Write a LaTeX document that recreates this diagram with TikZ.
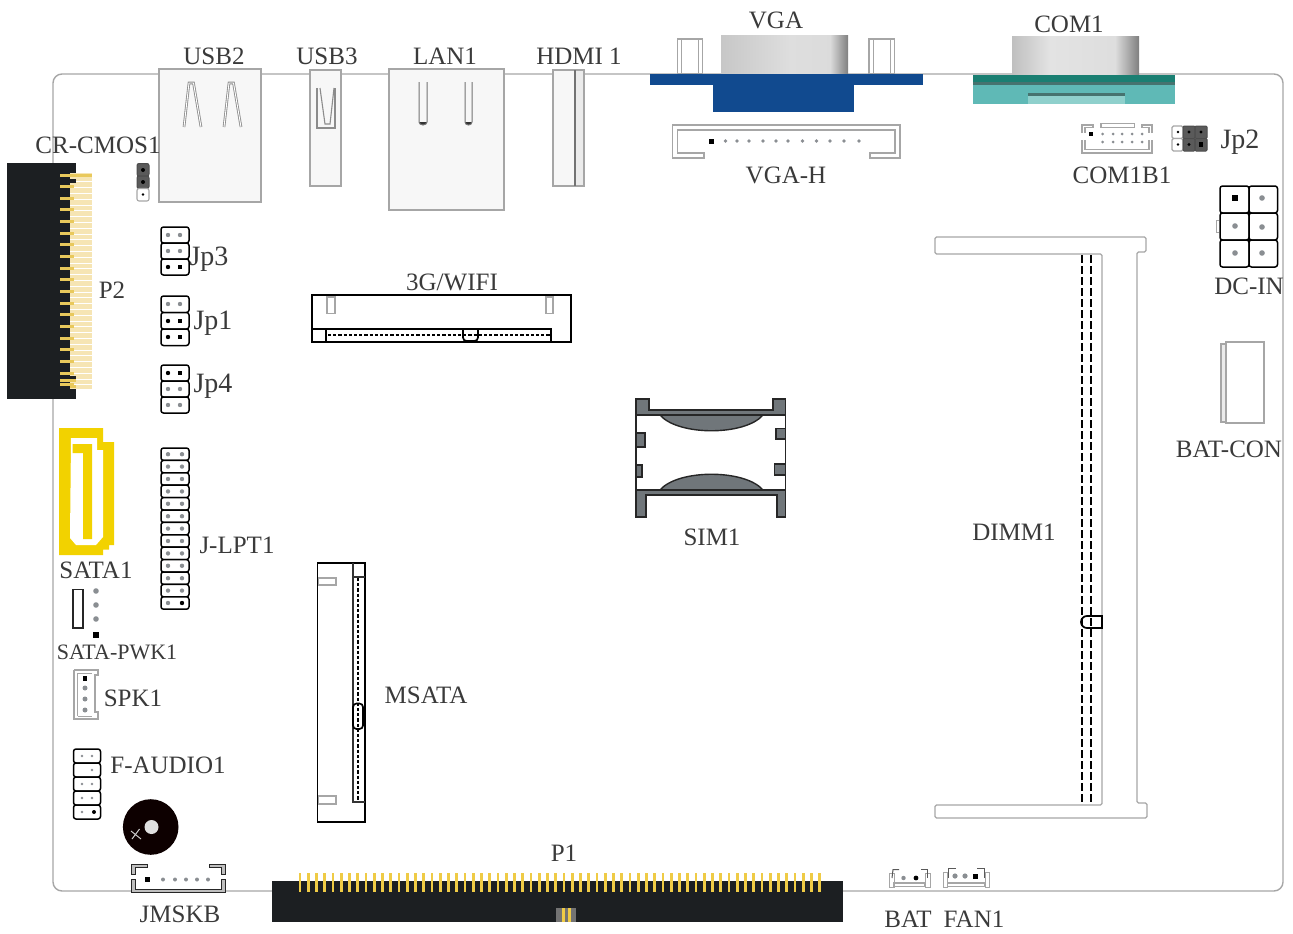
\documentclass[tikz,border=0pt]{standalone}
\usepackage{fontspec}
\setmainfont{Liberation Serif}
\definecolor{ink}{HTML}{3A3A3A}
\definecolor{frame}{HTML}{A6A6A6}
\definecolor{panel}{HTML}{F7F7F7}
\definecolor{pcbblack}{HTML}{1C1F22}
\definecolor{palegold}{HTML}{F6E5B4}
\definecolor{gold}{HTML}{E9C95C}
\definecolor{brightgold}{HTML}{EFCB45}
\definecolor{satayellow}{HTML}{F2D200}
\definecolor{vgablue}{HTML}{114A8F}
\definecolor{tealdark}{HTML}{1A7F72}
\definecolor{teallight}{HTML}{5FB9B6}
\definecolor{tealpale}{HTML}{8FD0CC}
\definecolor{tealgrey}{HTML}{46736F}
\definecolor{simgrey}{HTML}{70767A}
\definecolor{pindark}{HTML}{5A5A5A}
\definecolor{pingrey}{HTML}{8A8E92}
\tikzset{
  lbl/.style={font=\fontsize{25}{25}\selectfont,text=ink,inner sep=0pt},
  lbljp/.style={font=\fontsize{28}{28}\selectfont,text=ink,inner sep=0pt,anchor=base},
  lblsmall/.style={font=\fontsize{22}{22}\selectfont,text=ink,inner sep=0pt},
  boardline/.style={draw=frame,line width=1.4pt},
  greybox/.style={draw=frame,line width=1.3pt,fill=panel},
  thinbox/.style={draw=frame,line width=1.1pt,fill=white},
  blackbox/.style={draw=black,line width=1.7pt},
  cell/.style={draw=black,line width=1.5pt,fill=white,rounded corners=2.5pt},
  darkcell/.style={draw=black!70,line width=1pt,fill=pindark,rounded corners=2pt},
  simbox/.style={draw=black!85,line width=1.4pt,fill=simgrey},
}
% grey round pin, black round pin, black square pin
\newcommand{\gp}[3][2.2]{\fill[pingrey] (#2,#3) circle (#1pt);}
\newcommand{\bp}[3][2.2]{\fill[black] (#2,#3) circle (#1pt);}
\newcommand{\sqp}[3][2.8]{\fill[black] (#2-#1,#3-#1) rectangle (#2+#1,#3+#1);}
% header row: x0 x1 ytop ybottom
\newcommand{\hrow}[4]{\draw[cell] (#1,#3) rectangle (#2,#4);}
\begin{document}
\begin{tikzpicture}[x=1pt,y=-1pt]
\useasboundingbox (0,0) rectangle (1293,934);
\fill[white] (0,0) rectangle (1293,934);

% board outline
\draw[boardline,rounded corners=9pt] (53,74) rectangle (1283,891);

% P2 edge connector
\fill[pcbblack] (7,163) rectangle (76,399);
\fill[palegold] (70,173) rectangle (92,389);
\foreach \i in {0,...,36} \fill[white] (70,{175.5+5.8*\i}) rectangle (92,{176.1+5.8*\i});
\foreach \i in {0,...,18} \fill[gold] (60,{173.5+11.65*\i}) rectangle (74,{176.5+11.65*\i});
\fill[pcbblack] (70,179) rectangle (76,183);
\fill[gold] (60,173.5) rectangle (92,176.5);
\fill[pcbblack] (70,376) rectangle (76,380);
\fill[gold] (60,379) rectangle (76,382);
\fill[gold] (70,384.5) rectangle (76,388);

% USB2
\draw[greybox] (159,69) rectangle (261,202);
\foreach \dx in {0,40}{
  \draw[black!45,line width=2.6pt] (184+\dx,127) -- (189+\dx,83) -- (193.5+\dx,83) -- (201+\dx,127);
  \draw[white,line width=0.9pt] (184+\dx,127) -- (189+\dx,83) -- (193.5+\dx,83) -- (201+\dx,127);
}
% USB3
\draw[greybox] (310,70) rectangle (341,186);
\draw[black!45,line width=1.1pt] (317,88) -- (317,128) -- (335,128) -- (335,88);
\draw[black!45,line width=1.1pt] (320,88) -- (325,124) -- (330,124) -- (334,88);
% LAN1
\draw[greybox] (389,69) rectangle (504,210);
\foreach \a/\b in {419/427,465/472}{
  \fill[black!80] (\a,122) arc[start angle=180,end angle=0,x radius={(\b-\a)/2},y radius=3] -- cycle;
  \draw[black!55,line width=1pt] (\a,82) -- (\a,122) arc[start angle=180,end angle=0,x radius={(\b-\a)/2},y radius=3] -- (\b,82);
}
% HDMI
\draw[greybox,fill=panel] (553,70) rectangle (575,186);
\draw[greybox,fill=black!8] (575,70) rectangle (584,186);
\draw[black!55,line width=1.5pt] (575,70) -- (575,186);

% VGA
\foreach \a/\b in {677.5/702.5,869/894.5}{
  \draw[thinbox] (\a,39) rectangle (\b,74);
  \draw[frame,line width=0.9pt] (\a+4,39) -- (\a+4,74) (\b-4,39) -- (\b-4,74);
}
\shade[left color=black!22,right color=black!13] (721,36) rectangle (790,74);
\shade[left color=black!13,right color=black!14] (790,36) rectangle (830,74);
\shade[left color=black!14,right color=black!50] (830,36) rectangle (848,74);
\fill[vgablue] (650,74) rectangle (923,85);
\fill[vgablue] (713,85) rectangle (854,112);

% COM1
\shade[left color=black!25,right color=black!11] (1012,37) rectangle (1050,75);
\shade[left color=black!11,right color=black!13] (1050,37) rectangle (1115,75);
\shade[left color=black!13,right color=black!50] (1115,37) rectangle (1139,75);
\fill[teallight] (973,75) rectangle (1175,104);
\fill[tealdark] (973,75) rectangle (1175,82);
\fill[tealgrey] (973,82) rectangle (1175,84.5);
\fill[tealpale] (1028,96) rectangle (1125,104);
\fill[tealgrey] (1028,92.5) rectangle (1125,96);

% VGA-H
\draw[thinbox] (672.5,125) -- (900,125) -- (900,158) -- (870,158) -- (870,153) -- (895,153) -- (895,130) -- (677.5,130) -- (677.5,153) -- (704,153) -- (704,158) -- (672.5,158) -- cycle;
\sqp[2.5]{711.5}{141}
\foreach \x in {725.5,737,749,763,776,788,802.5,816.5,830,844,859} {\gp[1.8]{\x}{141}}

% COM1B1
\draw[thinbox] (1101,123.5) rectangle (1134.5,127.5);
\draw[frame,line width=1.1pt] (1082,133) -- (1082,125) -- (1093,125) -- (1093,127.5) -- (1085,127.5) -- (1085,133);
\draw[frame,line width=1.1pt] (1152,133) -- (1152,125) -- (1142,125) -- (1142,127.5) -- (1149,127.5) -- (1149,133);
\draw[frame,line width=1.1pt] (1082,140) -- (1082,153) -- (1152,153) -- (1152,140);
\draw[frame,line width=1.1pt] (1085,140) -- (1085,149.5) -- (1149,149.5) -- (1149,140);
\sqp[1.8]{1091}{134}
\foreach \x in {1102.5,1113,1122,1132,1142}{\gp[1.5]{\x}{134}\gp[1.5]{\x}{142}}

% Jp2
\foreach \y in {126,138.5}{
  \draw[thinbox,rounded corners=1.5pt] (1172,\y) rectangle (1183,\y+12.5);
  \draw[darkcell,rounded corners=1pt] (1183,\y) rectangle (1195,\y+12.5);
  \draw[darkcell,rounded corners=1pt] (1195,\y) rectangle (1207,\y+12.5);
  \bp[1.4]{1178}{\y+6}\bp[1.6]{1189}{\y+6}\bp[1.6]{1201}{\y+6}
}
\sqp[2.4]{1201}{144.5}

% DC-IN
\draw[frame,line width=1pt] (1219,220) -- (1216,220) -- (1216,232) -- (1219,232);
\foreach \y in {186,213,240}{
  \hrow{1220}{1249}{\y}{\y+27}
  \hrow{1249}{1277.5}{\y}{\y+27}
}
\sqp[3.4]{1235}{198}
\gp[2.8]{1262}{198}\gp[2.8]{1235}{226}\gp[2.8]{1262}{227}\gp[2.8]{1235}{253}\gp[2.8]{1262}{253}

% BAT-CON
\draw[greybox,fill=black!8] (1221,344) rectangle (1226,422);
\draw[thinbox] (1226,342) rectangle (1264,423);

% DIMM1
\draw[thinbox,rounded corners=1.5pt] (1137,800) -- (1137,803) -- (1147,803) -- (1147,818) -- (935,818) -- (935,805) -- (1102,805) -- (1102,254) -- (935,254) -- (935,237) -- (1146,237) -- (1146,252) -- (1137,252) -- cycle;
\draw[black,line width=1.7pt,dash pattern=on 8pt off 3pt] (1082,255) -- (1082,803);
\draw[black,line width=1.7pt,dash pattern=on 8pt off 3pt] (1091,255) -- (1091,803);
\draw[blackbox] (1087,616) -- (1102,616) -- (1102,628) -- (1087,628) arc[start angle=90,end angle=270,radius=6];

% SIM1
\draw[draw=black!85,line width=1.4pt,fill=white] (636,415) rectangle (785.5,490);
\draw[simbox] (660,415) .. controls (678,436) and (745,436) .. (763,415) -- cycle;
\draw[simbox] (660,490) .. controls (678,469) and (745,469) .. (763,490) -- cycle;
\draw[simbox] (636,399) -- (649,399) -- (649,410) -- (773,410) -- (773,399) -- (785.5,399) -- (785.5,415) -- (636,415) -- cycle;
\draw[simbox] (636,490) -- (785.5,490) -- (785.5,517) -- (777,517) -- (777,495) -- (646,495) -- (646,517) -- (636,517) -- cycle;
\draw[simbox] (636,433) rectangle (645,447);
\draw[simbox] (636,465) rectangle (642,477);
\draw[simbox] (776,428.5) rectangle (785.5,439);
\draw[simbox] (774.5,464) rectangle (785.5,475);

% 3G/WIFI
\draw[blackbox,fill=white] (312,295) rectangle (571,342);
\draw[thinbox] (327,297) rectangle (335,313.5);
\draw[thinbox] (546,297) rectangle (553,313.5);
\draw[blackbox] (312,329) -- (326,329) -- (326,342);
\draw[blackbox] (326,329) -- (551,329) -- (551,342);
\draw[black,line width=1.7pt,dash pattern=on 3.2pt off 2pt] (328,335) -- (550,335);
\draw[blackbox,rounded corners=3.5pt] (463,329) -- (463,341) -- (478,341) -- (478,329);

% MSATA
\draw[blackbox,fill=white] (317.5,563) rectangle (365,822);
\draw[thinbox] (318.5,578) rectangle (336,585);
\draw[thinbox] (318.5,796) rectangle (336,804);
\draw[black!80,line width=1.5pt] (353,563) -- (353,802) -- (365,802);
\draw[black!80,line width=1.5pt] (353,577) -- (365,577);
\draw[black,line width=1.7pt,dash pattern=on 3.2pt off 2pt] (358,578) -- (358,800);
\draw[blackbox,rounded corners=3.5pt] (353,703.5) -- (363,703.5) -- (363,729) -- (353,729) -- cycle;

% CR-CMOS jumper
\draw[darkcell] (137,163.5) rectangle (149,176);
\draw[darkcell] (137,176) rectangle (149,188.5);
\draw[thinbox,rounded corners=2pt] (137,188.5) rectangle (149,201);
\bp[2]{143}{170}\bp[2]{143}{182}\bp[1.3]{143}{194.5}

% Jp3
\foreach \y in {227,243,259}{\hrow{161}{189}{\y}{\y+16}}
\gp{168}{235}\gp{180}{235}\gp{168}{251}\gp{180}{251}\bp{168}{267}\sqp[2.1]{180}{267}
% Jp1
\foreach \y in {296,312.5,329}{\hrow{161}{189}{\y}{\y+16.5}}
\gp{168}{304}\gp{180}{304}\bp{168}{321}\sqp[2.1]{180}{321}\bp{168}{337}\sqp[2.1]{180}{337}
% Jp4
\foreach \y in {365,381,397}{\hrow{161}{189}{\y}{\y+16}}
\bp{168}{373}\sqp[2.1]{180}{373}\gp{168}{389}\gp{180}{389}\gp{168}{405}\gp{180}{405}

% J-LPT1
\foreach \i in {0,...,12}{
  \hrow{161}{189}{448+12.4*\i}{448+12.4*\i+12.4}
  \gp{168}{454.2+12.4*\i}
  \ifnum\i<12 \gp{182}{454.2+12.4*\i}\fi
}
\bp{182}{603}

% SATA1
\fill[satayellow] (59,428) -- (103,428) -- (103,442) -- (114,442) -- (114,545) -- (109,545) -- (109,549.5) -- (103,549.5) -- (103,555) -- (59,555) -- cycle;
\fill[white] (71,438) -- (97,438) -- (97,450) -- (103,450) -- (103,537) -- (96,545) -- (76,545) -- (70,538) -- cycle;
\fill[satayellow] (72.5,444) -- (92,444) -- (92,539) -- (83,539) -- (83,453) -- (72.5,453) -- cycle;

% SATA-PWK1
\draw[blackbox,draw=black!85] (73,589.5) rectangle (83,628);
\gp[2.8]{96}{591}\gp[2.8]{96}{605}\gp[2.8]{96}{619}\sqp[2.8]{96}{635}

% SPK1
\draw[thinbox] (74,670) -- (98,670) -- (98,675) -- (95,675) -- (95,712) -- (98,712) -- (98,719) -- (74,719) -- (74,670);
\draw[frame,line width=1pt] (77.5,673) -- (77.5,716) (77.5,673) -- (92,673) (77.5,716) -- (92,716);
\sqp[2.2]{85}{678.5}
\gp[2.5]{85}{688}\gp[2.5]{85}{699}\gp[2.5]{85}{710}

% F-AUDIO1
\foreach \y in {749,763,777,791,805}{\hrow{73.5}{100.5}{\y}{\y+14}}
\gp[1.4]{82}{756}\gp[1.4]{92}{756}\gp[1.4]{92}{770}\gp[1.4]{82}{784}\gp[1.4]{92}{784}\gp[1.4]{82}{798}\gp[1.4]{92}{798}\gp[1.4]{82}{812}\bp[2]{94}{812}

% Buzzer
\fill[black!95!red] (150.7,827) circle (27.8pt);
\fill[white!88!black] (151.5,827) circle (7pt);
\draw[white!80!black,line width=1pt] (131,831) -- (141,839) (132,839) -- (139.5,829);

% JMSKB
\draw[draw=black!85,line width=1pt,fill=black!25] (131,874) -- (131,864.5) -- (147,864.5) -- (147,867) -- (135,867) -- (135,874) -- cycle;
\draw[draw=black!85,line width=1pt,fill=black!25] (225,874) -- (225,864.5) -- (209,864.5) -- (209,867) -- (221,867) -- (221,874) -- cycle;
\draw[draw=black!85,line width=1pt,fill=black!25] (131,879) -- (135,879) -- (135,889) -- (221,889) -- (221,879) -- (225,879) -- (225,892) -- (131,892) -- cycle;
\sqp[2.6]{147.5}{879.5}
\foreach \x in {163,175,186,197,208}{\gp[2]{\x}{879.5}}

% P1
\fill[pcbblack] (272,881) rectangle (843,922);
\foreach \i in {0,...,63} \fill[brightgold] ({298.5+8.25*\i},873) rectangle ({301.3+8.25*\i},892);
\fill[black!55] (556,908) rectangle (576,922);
\fill[brightgold] (561.5,908) rectangle (564.5,922);
\fill[brightgold] (567.5,908) rectangle (570.5,922);

% BAT
\draw[frame,line width=1pt] (889,887) -- (889,873) -- (894,873) -- (894,887) -- cycle;
\draw[frame,line width=1pt] (925,887) -- (925,873) -- (930,873) -- (930,887) -- cycle;
\draw[black!65,line width=1pt] (892,878) -- (893,869.5) -- (899,869.5);
\draw[black!65,line width=1pt] (927,878) -- (927,869.5) -- (921,869.5);
\draw[thinbox] (894,883) rectangle (925,886.5);
\gp[2.2]{903.5}{878}\bp[2.4]{916}{878}
% FAN1
\draw[frame,line width=1pt] (943,887) -- (943,872) -- (947.5,872) -- (947.5,887) -- cycle;
\draw[frame,line width=1pt] (985,887) -- (985,872) -- (989,872) -- (989,887) -- cycle;
\draw[black!65,line width=1pt] (948,878) -- (948,868) -- (956,868);
\draw[black!65,line width=1pt] (984,878) -- (984,868) -- (977,868);
\draw[thinbox] (947.5,883) rectangle (985,886.5);
\gp[2.6]{955}{876}\gp[2.6]{965}{876}\sqp[2.5]{975}{876}

% labels
\node[lbl] (lusbtwo) at (214,56) {USB2};
\node[lbl] (lusbthree) at (327,56) {USB3};
\node[lbl] (llan) at (445,56) {LAN1};
\node[lbl] (lhdmi) at (579,56) {HDMI 1};
\node[lbl] (lvga) at (776,20) {VGA};
\node[lbl] (lcom) at (1069,24) {COM1};
\node[lbl] (lvgah) at (786,175) {VGA-H};
\node[lbl] (lcomb) at (1122,175) {COM1B1};
\node[lbljp] (ljptwo) at (1240,148) {Jp2};
\node[lbl] (ldc) at (1249,286) {DC-IN};
\node[lbl] (lbatcon) at (1229,449) {BAT-CON};
\node[lbl] (ldimm) at (1014,532) {DIMM1};
\node[lbl] (lsim) at (712,537) {SIM1};
\node[lbl] (lmsata) at (426,695) {MSATA};
\node[lbl] (lwifi) at (452,282) {3G/WIFI};
\node[lbl] (lptwo) at (112,290) {P2};
\node[lbl] (lcmos) at (98,145) {CR-CMOS1};
\node[lbljp] (ljpthree) at (209,265) {Jp3};
\node[lbljp] (ljpone) at (213,329) {Jp1};
\node[lbljp] (ljpfour) at (213,392) {Jp4};
\node[lbl] (llpt) at (237,545) {J-LPT1};
\node[lbl] (lsata) at (96,570) {SATA1};
\node[lblsmall] (lpwk) at (117,652) {SATA-PWK1};
\node[lbl] (lspk) at (133,698) {SPK1};
\node[lbl] (laudio) at (168,765) {F-AUDIO1};
\node[lbl] (lkb) at (180,914) {JMSKB};
\node[lbl] (lpone) at (564,853) {P1};
\node[lbl] (lbat) at (908,919) {BAT};
\node[lbl] (lfan) at (974,919) {FAN1};
\end{tikzpicture}
\end{document}
